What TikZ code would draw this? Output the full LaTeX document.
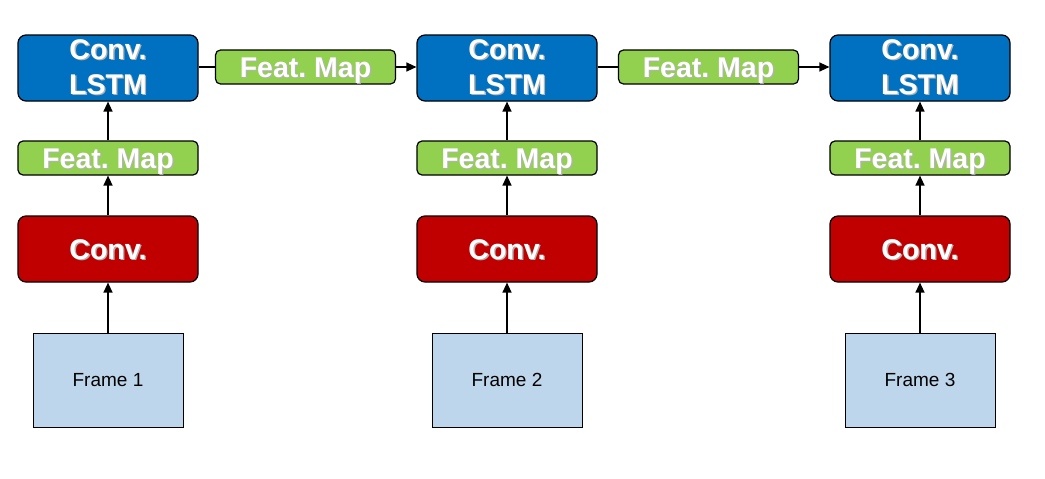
\documentclass[tikz,border=0pt]{standalone}
\usepackage{fontspec}
\setmainfont{Liberation Sans}
\usetikzlibrary{arrows.meta}
\frenchspacing
\definecolor{lstmblue}{RGB}{0,112,192}
\definecolor{convred}{RGB}{192,0,0}
\definecolor{featgreen}{RGB}{146,208,80}
\definecolor{framebg}{RGB}{190,214,235}
\newcommand\shd[1]{\makebox[0pt][l]{\raisebox{-1.3pt}{\kern1.3pt\color{black!30}#1}}#1}
\tikzset{
  box/.style={draw=black, line width=1.2pt, inner sep=0pt, align=center, text=white,
    font=\fontsize{28.5}{35}\selectfont\bfseries},
  lstmbox/.style={box, fill=lstmblue, rounded corners=8pt, minimum width=180pt, minimum height=66pt},
  convbox/.style={box, fill=convred, rounded corners=8pt, minimum width=180pt, minimum height=66pt,
    text height=20.5pt, text depth=0pt},
  featbox/.style={box, fill=featgreen, rounded corners=5pt, minimum width=180pt, minimum height=34pt,
    text height=20.5pt, text depth=0pt},
  framebox/.style={draw=black, line width=1pt, fill=framebg, inner sep=0pt, minimum width=150pt,
    minimum height=94pt, font=\fontsize{19}{23}\selectfont},
  arr/.style={line width=1.3pt, -{Triangle[length=10pt,width=9pt]}},
  ln/.style={line width=1.3pt}
}
\begin{document}
\begin{tikzpicture}[x=1pt,y=-1pt]
\useasboundingbox (0,0) rectangle (1045,479);
\foreach \i/\cx in {1/108,2/507,3/920}{
  \node[lstmbox] (lstm\i) at (\cx,68) {\shd{Conv.}\\\shd{LSTM}};
  \node[featbox] (fv\i) at (\cx,158) {\shd{Feat. Map}};
  \node[convbox] (conv\i) at (\cx,249) {\shd{Conv.}};
  \node[framebox] (frame\i) at (\cx,380) {Frame \i};
  \draw[arr] (frame\i) -- (conv\i);
  \draw[arr] (conv\i) -- (fv\i);
  \draw[arr] (fv\i) -- (lstm\i);
}
\node[featbox] (fh1) at (305.5,67) {\shd{Feat. Map}};
\node[featbox] (fh2) at (708.5,67) {\shd{Feat. Map}};
\draw[ln] (lstm1.east |- fh1) -- (fh1.west);
\draw[arr] (fh1.east) -- (lstm2.west |- fh1);
\draw[ln] (lstm2.east |- fh2) -- (fh2.west);
\draw[arr] (fh2.east) -- (lstm3.west |- fh2);
\end{tikzpicture}
\end{document}
